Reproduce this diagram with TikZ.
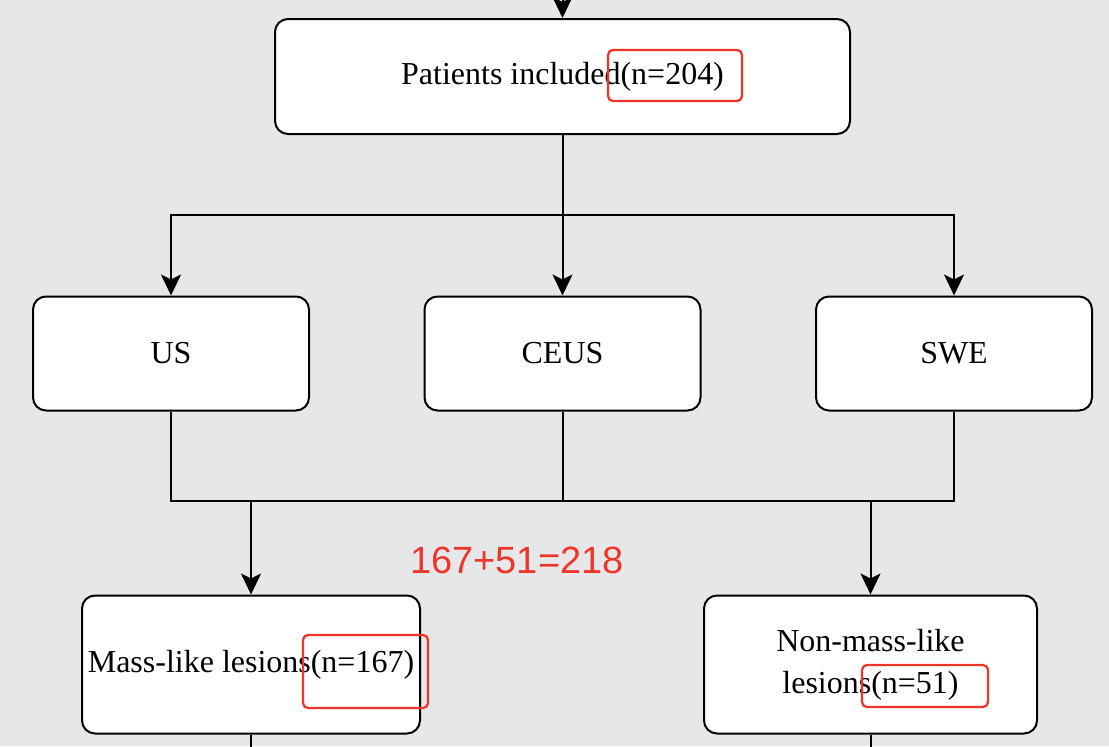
\documentclass[tikz,border=0pt]{standalone}
\usepackage{fontspec}
\setmainfont{Liberation Serif}
\newfontfamily\sumfont{Liberation Sans}
\usepackage{xcolor}
\usetikzlibrary{arrows.meta}
\usetikzlibrary{positioning}
\usetikzlibrary{calc}
\definecolor{bggray}{RGB}{230,231,233}
\definecolor{markred}{RGB}{240,52,40}
\tikzset{
  % filled notched tips as in the flow chart
  >={Stealth[length=0.42cm, width=0.4cm, inset=0.1cm]},
  line/.style={draw, line width=0.04cm, ->},
  plain/.style={draw, line width=0.04cm},
  redbox/.style={draw=markred, line width=0.045cm, rounded corners=0.1cm}
}

\begin{document}
\begin{tikzpicture}[node distance=1.5cm, auto]
    % Define styles
    \tikzstyle{block} = [rectangle, draw, fill=white, line width=0.04cm, rounded corners=0.26cm, align=center, minimum width=5.52cm, minimum height=2.28cm, font=\fontsize{18.2}{23.9}\selectfont]

    % Background
    \fill [bggray] (0,0) rectangle (22.18,-14.92);
    \useasboundingbox (0,0) rectangle (22.18,-14.92);

    % Place nodes
    \node [block, minimum width=11.5cm, minimum height=2.3cm] (patients) at (11.25,-1.53) {Patients included(n=204)};
    \node [block, below of=patients, node distance=5.54cm] (ceus) {CEUS};
    \node [block, left of=ceus, node distance=7.83cm] (us) {US};
    \node [block, right of=ceus, node distance=7.83cm] (swe) {SWE};
    \node [block, minimum width=6.68cm, minimum height=2.76cm, below of=us, node distance=6.22cm, xshift=1.6cm] (mass) {Mass-like lesions(n=167)};
    \node [block, minimum width=6.66cm, minimum height=2.76cm, below of=swe, node distance=6.22cm, xshift=-1.67cm] (nonmass) {Non-mass-like\\lesions(n=51)};
    \node [text=markred, font=\sumfont\fontsize{21.6}{24}\selectfont] (total) at (10.34,-11.2) {167+51=218};

    % Junction points
    \coordinate (top) at (11.25,0.6);
    \coordinate (split) at (11.25,-4.3);
    \coordinate (join) at (11.25,-10.02);
    \coordinate (massout) at ($(mass.south)+(0,-0.3)$);
    \coordinate (nonmassout) at ($(nonmass.south)+(0,-0.3)$);

    % Draw edges
    \draw [line] (top) -- (patients);
    \draw [plain] (patients) -- (split);
    \draw [line] (split) -| (us);
    \draw [line] (split) -- (ceus);
    \draw [line] (split) -| (swe);
    \draw [plain] (us) |- (join);
    \draw [plain] (swe) |- (join);
    \draw [plain] (ceus) -- (join);
    \draw [line] (join -| mass) -- (mass);
    \draw [line] (join -| nonmass) -- (nonmass);
    \draw [plain] (mass) -- (massout);
    \draw [plain] (nonmass) -- (nonmassout);

    % Red marks
    \draw [redbox] (12.16,-1.0) rectangle (14.84,-2.02);
    \draw [redbox] (6.06,-12.7) rectangle (8.56,-14.16);
    \draw [redbox] (17.24,-13.3) rectangle (19.76,-14.14);
\end{tikzpicture}
\end{document}
